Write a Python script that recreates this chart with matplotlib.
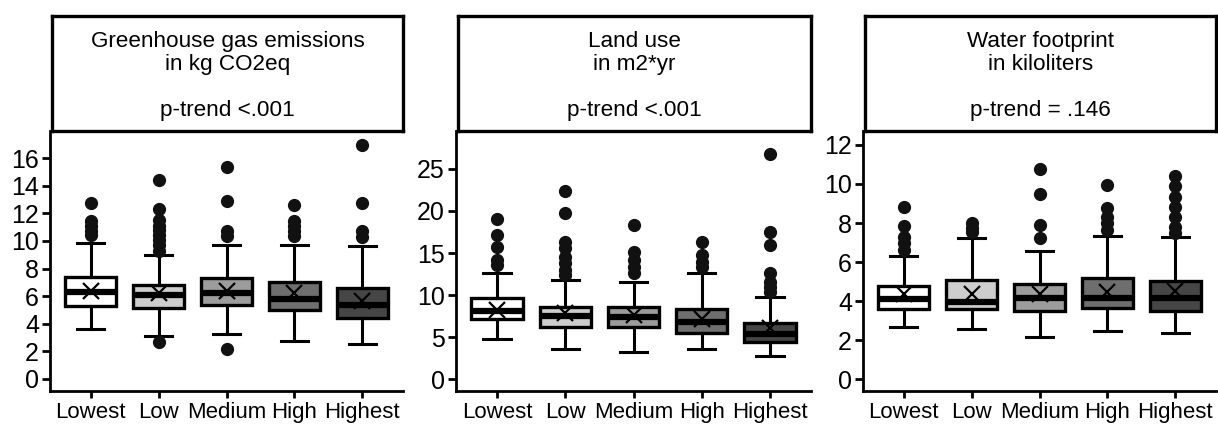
import numpy as np
import matplotlib
matplotlib.use('Agg')
from matplotlib import pyplot as plt

plt.rcParams['font.family'] = ['Liberation Sans', 'DejaVu Sans']

categories = ['Lowest', 'Low', 'Medium', 'High', 'Highest']
fills = ['#ffffff', '#cdcdcd', '#9c9c9c', '#6e6e6e', '#464646']

# greenhouse gas emissions (kg CO2eq)
ghg_q1 = [5.31, 5.14, 5.34, 5.02, 4.42]
ghg_med = [6.28, 6.11, 6.23, 5.78, 5.39]
ghg_q3 = [7.37, 6.84, 7.32, 7.03, 6.60]
ghg_lo = [3.65, 3.09, 3.29, 2.78, 2.54]
ghg_hi = [9.86, 8.96, 9.73, 9.73, 9.66]
ghg_mean = [6.35, 6.20, 6.35, 6.20, 5.63]
ghg_fliers = [[12.75, 11.43, 11.06, 10.7, 10.46],
              [14.44, 12.34, 11.5, 11.1, 10.82, 10.45, 10.1, 9.7, 9.25, 2.68],
              [15.34, 12.87, 10.7, 10.34, 2.2],
              [12.58, 11.43, 11.06, 10.7, 10.34],
              [16.98, 12.75, 10.7, 10.3]]

# land use (m2*yr)
land_q1 = [7.17, 6.18, 6.26, 5.55, 4.48]
land_med = [8.12, 7.53, 7.45, 6.85, 5.39]
land_q3 = [9.63, 8.64, 8.64, 8.32, 6.74]
land_lo = [4.75, 3.57, 3.20, 3.57, 2.77]
land_hi = [12.6, 11.8, 11.6, 12.6, 9.83]
land_mean = [8.24, 7.84, 7.65, 7.13, 6.06]
land_fliers = [[19.06, 17.16, 15.77, 14.18, 13.59],
               [22.38, 19.8, 16.36, 15.57, 14.58, 13.79, 13.0, 12.4],
               [18.34, 15.17, 14.18, 13.39, 12.6],
               [16.36, 14.78, 13.99, 13.39],
               [26.78, 17.47, 15.97, 12.6, 11.6, 11.0, 10.4]]

# water footprint (kiloliters)
water_q1 = [3.58, 3.60, 3.52, 3.64, 3.52]
water_med = [4.11, 3.98, 4.15, 4.15, 4.15]
water_q3 = [4.75, 5.09, 4.88, 5.17, 5.05]
water_lo = [2.70, 2.56, 2.18, 2.48, 2.39]
water_hi = [6.33, 7.25, 6.57, 7.34, 7.27]
water_mean = [4.35, 4.37, 4.37, 4.49, 4.52]
water_fliers = [[8.84, 7.85, 7.3, 6.96, 6.62],
                [7.99, 7.73, 7.56],
                [10.75, 9.47, 7.9, 7.25],
                [9.95, 8.76, 8.33, 7.99, 7.65],
                [10.41, 9.87, 9.35, 8.84, 8.33, 7.82, 7.48]]

titles = ['Greenhouse gas emissions\nin kg CO2eq\n\np-trend <.001',
          'Land use\nin m2*yr\n\np-trend <.001',
          'Water footprint\nin kiloliters\n\np-trend = .146']


def make_stats(q1, med, q3, lo, hi, mean, fliers):
    stats = []
    for i in range(len(q1)):
        stats.append(dict(q1=q1[i], med=med[i], q3=q3[i], whislo=lo[i], whishi=hi[i],
                          mean=mean[i], fliers=np.array(fliers[i]), label=categories[i]))
    return stats


panels = [
    (make_stats(ghg_q1, ghg_med, ghg_q3, ghg_lo, ghg_hi, ghg_mean, ghg_fliers), (-0.87, 17.97), np.arange(0, 17, 2)),
    (make_stats(land_q1, land_med, land_q3, land_lo, land_hi, land_mean, land_fliers), (-1.39, 29.5), np.arange(0, 26, 5)),
    (make_stats(water_q1, water_med, water_q3, water_lo, water_hi, water_mean, water_fliers), (-0.6, 12.71), np.arange(0, 13, 2)),
]

W, H = 1218, 424
fig = plt.figure(figsize=(W / 100, H / 100), dpi=100)
lefts = [50, 456, 863]
rights = [403, 811, 1216]
ax_top, ax_bot, strip_top = 131, 391, 16

for k, (stats, ylims, yt) in enumerate(panels):
    x0, x1 = lefts[k], rights[k]
    ax = fig.add_axes([x0 / W, (H - ax_bot) / H, (x1 - x0) / W, (ax_bot - ax_top) / H])
    bp = ax.bxp(stats, positions=range(1, 6), widths=0.75, capwidths=0.4, patch_artist=True,
                showmeans=True, showfliers=True,
                boxprops=dict(linewidth=2.4, edgecolor='black'),
                whiskerprops=dict(linewidth=2.2, color='black'),
                capprops=dict(linewidth=2.2, color='black'),
                medianprops=dict(linewidth=4.5, color='black'),
                meanprops=dict(marker='x', markersize=11, markeredgecolor='black', markeredgewidth=1.6),
                flierprops=dict(marker='o', markersize=8.5, markerfacecolor='#111111',
                                markeredgecolor='#111111'))
    for patch, c in zip(bp['boxes'], fills):
        patch.set_facecolor(c)
    ax.set_xlim(0.4, 5.6)
    ax.set_ylim(ylims)
    ax.set_yticks(yt)
    ax.set_xticks(range(1, 6))
    ax.set_xticklabels(categories, fontsize=16)
    ax.tick_params(axis='y', labelsize=18, width=2, length=6, pad=2)
    ax.tick_params(axis='x', width=2, length=5, pad=3)
    for s in ['top', 'right']:
        ax.spines[s].set_visible(False)
    for s in ['left', 'bottom']:
        ax.spines[s].set_linewidth(2)

    # header strip
    sx0 = x0 + 2
    sax = fig.add_axes([sx0 / W, (H - ax_top) / H, (x1 - sx0) / W, (ax_top - strip_top) / H])
    sax.set_xticks([])
    sax.set_yticks([])
    for s in sax.spines.values():
        s.set_linewidth(2.4)
    sax.text(0.5, 0.48, titles[k], ha='center', va='center', fontsize=16.2, linespacing=1.13,
             transform=sax.transAxes)

plt.savefig('out.png', dpi=100)
plt.close()
